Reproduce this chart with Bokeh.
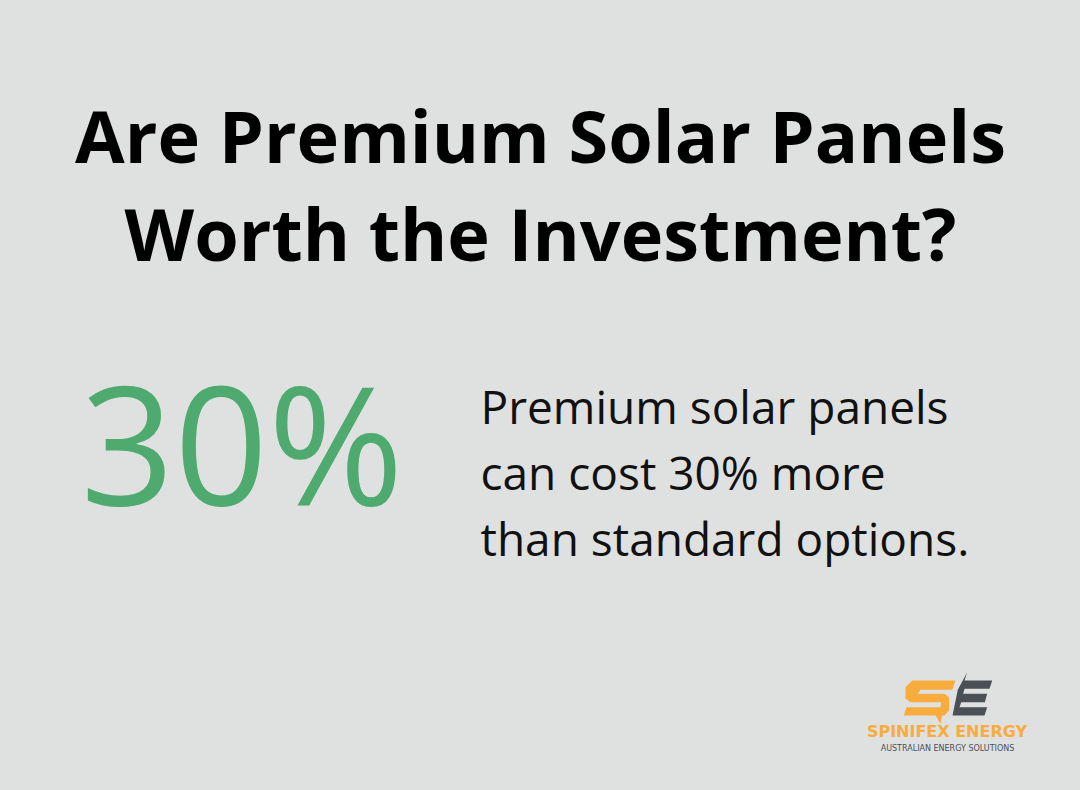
from bokeh.plotting import figure
from bokeh.models import Range1d
from bokeh.core.properties import value
from bokeh.embed import file_html
from bokeh.resources import INLINE

# ---- content ----
title_lines = ["Are Premium Solar Panels", "Worth the Investment?"]
stat_value = "30%"
body_lines = ["Premium solar panels", "can cost 30% more", "than standard options."]
brand_name = "SPINIFEX ENERGY"
brand_tag = "AUSTRALIAN ENERGY SOLUTIONS"

BG = "#dfe1e0"
GREEN = "#4eaa6e"
ORANGE = "#f8ac3e"
DARK = "#4b4f56"

W, H = 1064, 774
p = figure(width=W, height=H, output_backend="svg", toolbar_location=None,
           x_range=Range1d(0, W), y_range=Range1d(H, 0),
           min_border=0)
p.axis.visible = False
p.grid.visible = False
p.outline_line_color = None
p.background_fill_color = BG
p.border_fill_color = BG

# title
p.text(x=[540, 540], y=[134, 232], text=title_lines,
       text_font=value("Open Sans"), text_font_style="bold",
       text_font_size="72px", text_color="#000000",
       text_align="center", text_baseline="alphabetic")

# big stat
p.text(x=[80], y=[441], text=[stat_value], text_font=value("Open Sans"),
       text_font_size="164px", text_color=GREEN,
       text_align="left", text_baseline="alphabetic")

# body
p.text(x=[480, 480, 480], y=[405, 471, 537], text=body_lines,
       text_font=value("Open Sans"), text_font_size="46px",
       text_color="#111111", text_align="left", text_baseline="alphabetic")

# logo shapes
s_x = [911.7, 955, 951.7, 920, 917.3, 944, 948.5, 948.5, 944, 941.7, 940, 935, 903.3, 906, 940, 940.7, 910, 905, 905]
s_y = [680, 680, 689.3, 689.3, 693.3, 693.3, 696.7, 710, 715, 715, 723.3, 715, 715, 706.7, 706.7, 701.7, 701.7, 698.3, 686.7]
e_x = [966.7, 964, 991.7, 989, 964, 962.7, 986.7, 984.3, 960.7, 959, 986.7, 984, 952, 957.3]
e_y = [671.7, 680, 680, 688.3, 688.3, 693.3, 693.3, 701.7, 701.7, 706.7, 706.7, 715, 715, 689.3]
p.patches(xs=[s_x, e_x], ys=[s_y, e_y], fill_color=[ORANGE, DARK], line_color=None)

p.text(x=[946.5], y=[731], text=[brand_name], text_font=value("DejaVu Sans"),
       text_font_style="bold", text_font_size="16px", text_color=ORANGE,
       text_align="center", text_baseline="alphabetic")
p.text(x=[947], y=[748], text=[brand_tag], text_font=value("DejaVu Sans"),
       text_font_size="8px", text_color=DARK,
       text_align="center", text_baseline="alphabetic")

html = file_html(p, INLINE)
html = html.replace("<head>", "<head><style>html,body{background:%s;}</style>" % BG, 1)
open("out.html", "w").write(html)
